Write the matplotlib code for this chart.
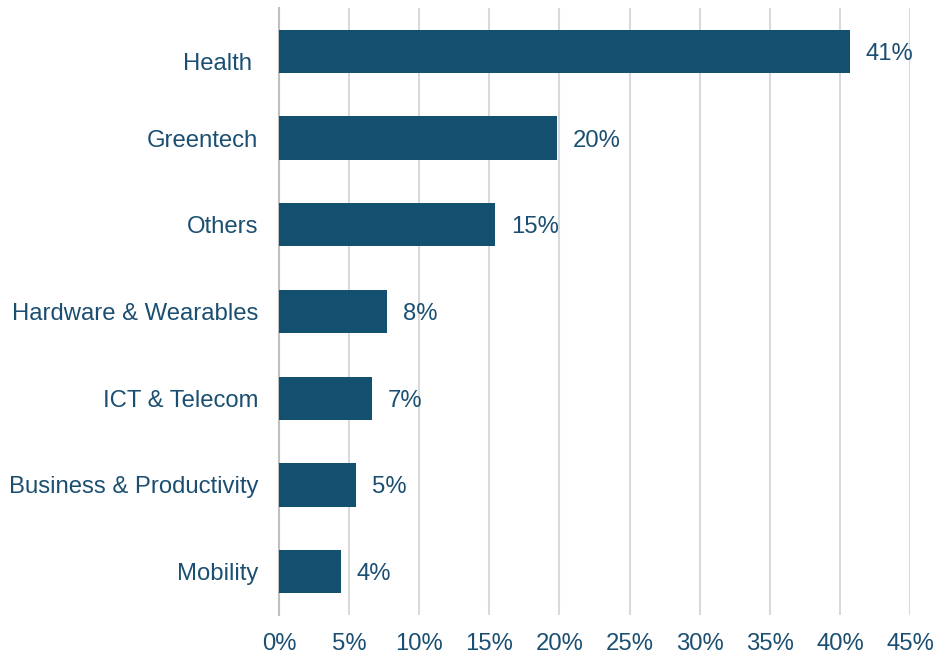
import matplotlib
matplotlib.use("Agg")
import matplotlib.pyplot as plt
from matplotlib.ticker import MultipleLocator, FuncFormatter
from matplotlib.transforms import ScaledTranslation

plt.rcParams['font.family'] = ['Liberation Sans', 'DejaVu Sans']

categories = ["Health ", "Greentech", "Others", "Hardware & Wearables",
              "ICT & Telecom", "Business & Productivity", "Mobility"]
values = [40.7, 19.8, 15.4, 7.7, 6.6, 5.5, 4.4]
labels = ["41%", "20%", "15%", "8%", "7%", "5%", "4%"]

bar_color = "#13506f"
text_color = "#1b4f72"
fs = 17.2

fig = plt.figure(figsize=(9.38, 6.57), dpi=100)
ax = fig.add_axes([279/938, 1-615/657, (910-279)/938, (615-8)/657])

ypos = list(range(len(categories)))
ax.barh(ypos, values, height=0.5, color=bar_color, zorder=3)
for y, v, l in zip(ypos, values, labels):
    ax.text(v + 1.15, y, l, va='center_baseline', ha='left', fontsize=fs, color=text_color)

ax.set_yticks(ypos)
ax.set_yticklabels(categories, va='center_baseline')
ax.set_ylim(len(categories) - 0.5, -0.5)
ax.set_xlim(0, 45)
ax.xaxis.set_major_locator(MultipleLocator(5))
ax.xaxis.set_major_formatter(FuncFormatter(lambda x, p: f"{int(round(x))}%"))
ax.grid(axis='x', color='#d9d9d9', linewidth=1.5, zorder=0)
ax.set_axisbelow(True)
for s in ['top', 'right', 'bottom']:
    ax.spines[s].set_visible(False)
ax.spines['left'].set_color('#bfbfbf')
ax.spines['left'].set_linewidth(1.5)
ax.tick_params(axis='both', length=0, labelsize=fs, labelcolor=text_color)
ax.tick_params(axis='y', pad=15)
ax.tick_params(axis='x', pad=13)

# first category label sits a little lower in the reference
lab0 = ax.get_yticklabels()[0]
lab0.set_transform(lab0.get_transform() + ScaledTranslation(0, -7.5/72, fig.dpi_scale_trans))

fig.savefig("out.png", dpi=100)
